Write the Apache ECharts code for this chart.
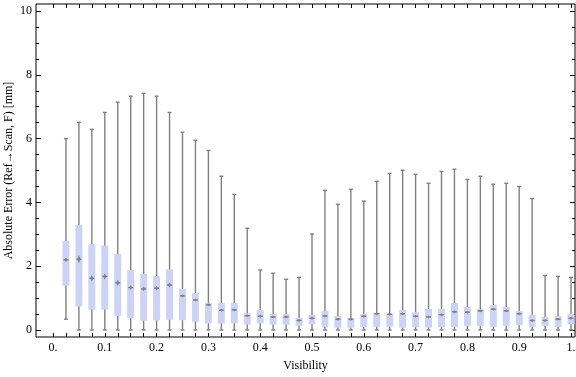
<!DOCTYPE html>
<html>
<head>
<meta charset="utf-8">
<script src="https://cdn.jsdelivr.net/npm/echarts@6/dist/echarts.min.js"></script>
<style>
  html, body { margin: 0; padding: 0; background: #fff; }
  #chart { width: 576px; height: 377px; }
</style>
</head>
<body>
<div id="chart"></div>
<script>
// one box per visibility bin
const visibility = [0.025, 0.05, 0.075, 0.1, 0.125, 0.15, 0.175, 0.2, 0.225, 0.25,
  0.275, 0.3, 0.325, 0.35, 0.375, 0.4, 0.425, 0.45, 0.475, 0.5,
  0.525, 0.55, 0.575, 0.6, 0.625, 0.65, 0.675, 0.7, 0.725, 0.75,
  0.775, 0.8, 0.825, 0.85, 0.875, 0.9, 0.925, 0.95, 0.975, 1.0]
const whiskerMin = [0.34, 0, 0, 0, 0, 0, 0, 0, 0, 0,
  0, 0, 0, 0, 0, 0, 0, 0, 0, 0,
  0, 0, 0, 0, 0, 0, 0, 0, 0, 0,
  0, 0, 0, 0, 0, 0, 0, 0, 0, 0]
const q1 = [1.39, 0.74, 0.64, 0.64, 0.44, 0.37, 0.29, 0.30, 0.32, 0.31,
  0.26, 0.21, 0.20, 0.21, 0.17, 0.21, 0.17, 0.17, 0.13, 0.18,
  0.10, 0.07, 0.07, 0.09, 0.10, 0.10, 0.07, 0.09, 0.07, 0.09,
  0.09, 0.13, 0.13, 0.10, 0.13, 0.15, 0.10, 0.13, 0.10, 0.18]
const median = [2.20, 2.22, 1.62, 1.68, 1.48, 1.33, 1.29, 1.31, 1.41, 1.07,
  0.94, 0.79, 0.62, 0.63, 0.45, 0.43, 0.41, 0.41, 0.30, 0.37,
  0.44, 0.34, 0.34, 0.43, 0.51, 0.49, 0.51, 0.43, 0.41, 0.48,
  0.57, 0.56, 0.60, 0.65, 0.60, 0.51, 0.30, 0.30, 0.34, 0.37]
const q3 = [2.79, 3.29, 2.69, 2.65, 2.38, 1.88, 1.76, 1.69, 1.90, 1.29,
  1.16, 0.85, 0.85, 0.85, 0.53, 0.63, 0.50, 0.50, 0.38, 0.47,
  0.59, 0.44, 0.37, 0.51, 0.54, 0.51, 0.63, 0.56, 0.66, 0.66,
  0.85, 0.72, 0.66, 0.78, 0.72, 0.60, 0.48, 0.41, 0.44, 0.51]
const whiskerMax = [6.00, 6.51, 6.29, 6.82, 7.14, 7.33, 7.42, 7.33, 6.82, 6.20,
  5.95, 5.63, 4.82, 4.25, 3.19, 1.88, 1.78, 1.59, 1.65, 3.01,
  4.38, 3.94, 4.41, 4.04, 4.66, 4.91, 5.01, 4.88, 4.60, 4.97,
  5.04, 4.72, 4.82, 4.57, 4.60, 4.50, 4.12, 1.71, 1.68, 1.65]

const boxData = visibility.map((v, i) => [v, whiskerMin[i], q1[i], median[i], q3[i], whiskerMax[i]])

const FONT = '"Liberation Serif", "DejaVu Serif", serif'
const GREY = '#808080'

function renderBox(params, api) {
  const x = api.value(0)
  const pMin = api.coord([x, api.value(1)])
  const pQ1 = api.coord([x, api.value(2)])
  const pMed = api.coord([x, api.value(3)])
  const pQ3 = api.coord([x, api.value(4)])
  const pMax = api.coord([x, api.value(5)])
  const cx = pMin[0]
  const half = 3.5
  const iqr = pQ1[1] - pQ3[1]
  const dh = Math.max(1.5, iqr * 0.05)
  const line = (x1, y1, x2, y2) => ({
    type: 'line',
    shape: { x1, y1, x2, y2 },
    style: { stroke: GREY, lineWidth: 1.4 }
  })
  return {
    type: 'group',
    children: [
      line(cx, pMin[1], cx, pMax[1]),
      line(cx - 2, pMin[1], cx + 2, pMin[1]),
      line(cx - 2, pMax[1], cx + 2, pMax[1]),
      {
        type: 'rect',
        shape: { x: cx - half, y: pQ3[1], width: half * 2, height: iqr },
        style: { fill: '#ccd3f5' }
      },
      line(cx - 2.5, pMed[1], cx + 2.5, pMed[1]),
      {
        type: 'polygon',
        shape: { points: [[cx, pMed[1] - dh], [cx + 1.7, pMed[1]], [cx, pMed[1] + dh], [cx - 1.7, pMed[1]]] },
        style: { fill: GREY, opacity: 0.9 }
      }
    ]
  }
}

function xLabel(v) {
  if (Math.abs(v) < 1e-9) return '0.'
  if (Math.abs(v - 1) < 1e-9) return '1.'
  return v.toFixed(1)
}

const tickStyle = { color: '#000', width: 1 }
const textStyle = { fontFamily: FONT, fontSize: 12, color: '#000' }

function xTickAxis(position, withLabels) {
  return {
    gridIndex: 1, type: 'value', min: 0, max: 1, interval: 0.1, position,
    axisLine: { show: false },
    axisTick: { inside: true, length: 4, lineStyle: tickStyle },
    minorTick: { show: true, splitNumber: 4, length: 4, lineStyle: tickStyle },
    splitLine: { show: false },
    axisLabel: withLabels ? { formatter: xLabel, margin: 5, ...textStyle } : { show: false }
  }
}

function yTickAxis(position, withLabels) {
  return {
    gridIndex: 2, type: 'value', min: 0, max: 10, interval: 2, position,
    axisLine: { show: false },
    axisTick: { inside: true, length: 5, lineStyle: tickStyle },
    minorTick: { show: true, splitNumber: 4, length: 3, lineStyle: tickStyle },
    splitLine: { show: false },
    axisLabel: withLabels ? { margin: 4, ...textStyle } : { show: false }
  }
}

const hidden = (gridIndex, max) => ({ gridIndex, type: 'value', show: false, min: 0, max })

const chart = echarts.init(document.getElementById('chart'))
chart.setOption({
  animation: false,
  grid: [
    // data area: x 0..1, y 0..10
    { left: 53, right: 5, top: 11, bottom: 47, outerBoundsMode: 'none' },
    // x ticks on the frame's bottom and top edges
    { left: 53, right: 5, top: 4, bottom: 40, outerBoundsMode: 'none' },
    // y ticks on the frame's left and right edges
    { left: 36, right: 1, top: 11, bottom: 47, outerBoundsMode: 'none' },
    // frame
    { left: 36, right: 1, top: 4, bottom: 40, outerBoundsMode: 'none', show: true, borderColor: '#000', borderWidth: 1 }
  ],
  xAxis: [
    hidden(0, 1),
    xTickAxis('bottom', true),
    xTickAxis('top', false),
    hidden(2, 1),
    {
      gridIndex: 3, type: 'value', min: 0, max: 1, position: 'bottom',
      axisLine: { show: false }, axisTick: { show: false }, axisLabel: { show: false },
      splitLine: { show: false },
      name: 'Visibility', nameLocation: 'middle', nameGap: 23, nameMoveOverlap: false,
      nameTextStyle: textStyle
    }
  ],
  yAxis: [
    hidden(0, 10),
    hidden(1, 10),
    yTickAxis('left', true),
    yTickAxis('right', false),
    {
      gridIndex: 3, type: 'value', min: 0, max: 1, position: 'left',
      axisLine: { show: false }, axisTick: { show: false }, axisLabel: { show: false },
      splitLine: { show: false },
      name: 'Absolute Error (Ref\u2192Scan, F) [mm]', nameLocation: 'middle', nameGap: 21,
      nameMoveOverlap: false,
      nameTextStyle: textStyle
    }
  ],
  series: [{
    type: 'custom',
    xAxisIndex: 0,
    yAxisIndex: 0,
    renderItem: renderBox,
    encode: { x: 0, y: [1, 2, 3, 4, 5] },
    data: boxData
  }]
})
</script>
</body>
</html>
